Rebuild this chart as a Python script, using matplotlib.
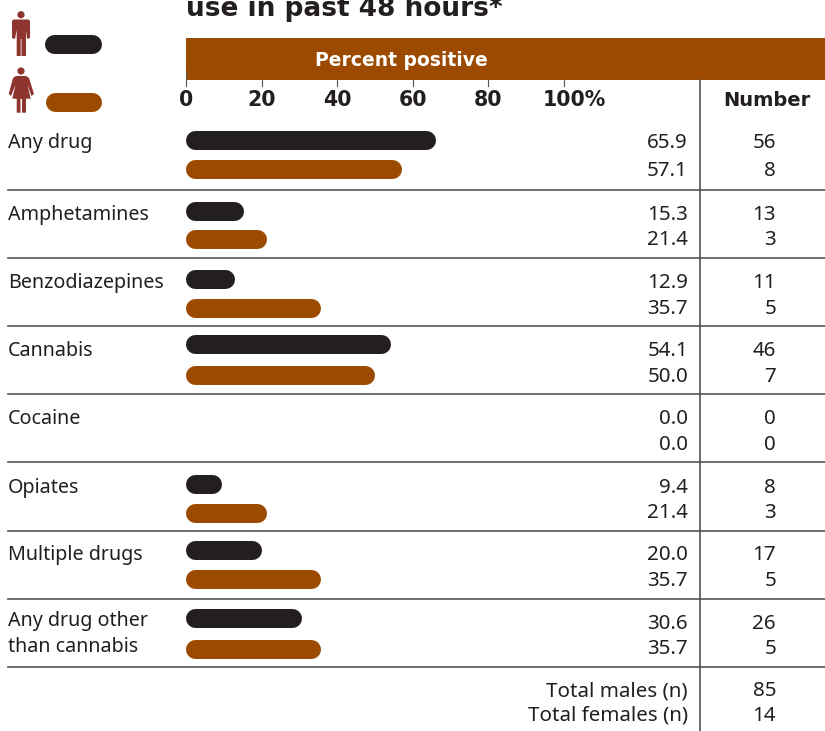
import matplotlib
matplotlib.use('Agg')
import matplotlib.pyplot as plt
from matplotlib.patches import Circle, Polygon, Rectangle

W, H = 825, 731

# Values
drugs = ['Any drug', 'Amphetamines', 'Benzodiazepines', 'Cannabis', 'Cocaine',
         'Opiates', 'Multiple drugs', 'Any drug other\nthan cannabis']
male_pct = [65.9, 15.3, 12.9, 54.1, 0.0, 9.4, 20.0, 30.6]
female_pct = [57.1, 21.4, 35.7, 50.0, 0.0, 21.4, 35.7, 35.7]
male_n = [56, 13, 11, 46, 0, 8, 17, 26]
female_n = [8, 3, 5, 7, 0, 3, 5, 5]
axis_ticks = [0, 20, 40, 60, 80, 100]
tick_labels = ['0', '20', '40', '60', '80', '100%']
total_labels = ['Total males (n)', 'Total females (n)']
totals = [85, 14]

# Layout, in image pixels
male_bar_y = [140, 211, 279, 344, 417, 484, 550, 618]
female_bar_y = [169, 239, 308, 375, 443, 513, 579, 649]
male_text_y = [141, 213, 281, 349, 417, 486, 553, 622]
female_text_y = [169, 238, 307, 375, 443, 511, 579, 647]
label_y = [141, 213, 281, 349, 417, 486, 553, 632]
rule_y = [190, 258, 326, 394, 462, 531, 599, 667]
total_y = [689, 714]

BROWN = '#9c4a00'
DARK = '#231f20'
ICON = '#8f3530'
RULE = '#555555'
X0, PX_PER_PCT = 186, 3.78
BAR_PX = 19
BAR_LW = BAR_PX * 0.72
CAP = BAR_PX / 2 / PX_PER_PCT
FONT = 'Noto Sans'
BOLD = 'DejaVu Sans'
FS = 14.2
NUM_FS = 14.8

fig = plt.figure(figsize=(W / 100, H / 100), dpi=100)

# pixel overlay for text, rules and icons
pax = fig.add_axes([0, 0, 1, 1])
pax.set_xlim(0, W)
pax.set_ylim(H, 0)
pax.axis('off')

# percent scale for the bars
ax = fig.add_axes([0, 0, 1, 1], facecolor='none')
ax.set_xlim(-X0 / PX_PER_PCT, (W - X0) / PX_PER_PCT)
ax.set_ylim(H, 0)
ax.axis('off')


def txt(x, y, s, **kw):
    kw.setdefault('family', FONT)
    kw.setdefault('fontsize', FS)
    kw.setdefault('color', DARK)
    kw.setdefault('va', 'center')
    pax.text(x, y, s, **kw)


def bar(a, x0, x1, y, color):
    a.plot([x0, x1], [y, y], color=color, lw=BAR_LW, solid_capstyle='round', zorder=3)


# title, cut off by the top edge as in the source
txt(186, 15.5, 'use in past 48 hours*', family=BOLD, fontsize=19,
    fontweight='bold', va='baseline', clip_on=False)

# header band
pax.add_patch(Rectangle((186, 38), W - 186, 42, color=BROWN, lw=0))
txt(401, 60, 'Percent positive', family=BOLD, fontsize=13.5, fontweight='bold',
    color='white', ha='center')
txt(767, 100, 'Number', family=BOLD, fontsize=14, fontweight='bold', ha='center')

# axis ticks and labels
for t, lab in zip(axis_ticks, tick_labels):
    ax.plot([t, t], [71 if t == 0 else 80, 86], color=RULE, lw=0.8, zorder=4)
    px = X0 + t * PX_PER_PCT
    if lab.endswith('%'):
        txt(543, 100, lab, family=BOLD, fontsize=14.8, fontweight='bold', ha='left')
    else:
        txt(px, 100, lab, family=BOLD, fontsize=14.8, fontweight='bold', ha='center')

# rows
for i, d in enumerate(drugs):
    txt(8, label_y[i] + 2, d, linespacing=1.4)
    if male_pct[i] > 0:
        bar(ax, CAP, male_pct[i] - CAP, male_bar_y[i], DARK)
    if female_pct[i] > 0:
        bar(ax, CAP, female_pct[i] - CAP, female_bar_y[i], BROWN)
    txt(688, male_text_y[i] + 2, f'{male_pct[i]:.1f}', ha='right', fontsize=NUM_FS)
    txt(688, female_text_y[i] + 2, f'{female_pct[i]:.1f}', ha='right', fontsize=NUM_FS)
    txt(776, male_text_y[i] + 2, str(male_n[i]), ha='right', fontsize=NUM_FS)
    txt(776, female_text_y[i] + 2, str(female_n[i]), ha='right', fontsize=NUM_FS)
    pax.plot([8, W], [rule_y[i], rule_y[i]], color=RULE, lw=1.2)

# totals
for lab, val, y in zip(total_labels, totals, total_y):
    txt(688, y + 2, lab, ha='right', fontsize=NUM_FS)
    txt(776, y + 2, str(val), ha='right', fontsize=NUM_FS)

pax.plot([700, 700], [80, H], color=RULE, lw=1.2)

# legend bars
bar(pax, 45 + BAR_PX / 2 - 1, 102 - BAR_PX / 2 - 1, 43.5, DARK)
bar(pax, 46 + BAR_PX / 2 - 1, 102 - BAR_PX / 2 - 1, 101.5, BROWN)

# man icon
pax.add_patch(Circle((21, 14.7), 3.6, color=ICON, lw=0))
pax.add_patch(Polygon([(13.5, 19.5), (28.5, 19.5), (30, 21), (30, 38), (27, 39), (26, 30),
                       (26, 56), (21.5, 56), (21.5, 39), (20.7, 39), (20.7, 56),
                       (16.7, 56), (16.7, 30), (15, 39), (12, 38), (12, 21)],
                      color=ICON, lw=0))
# woman icon
pax.add_patch(Circle((21, 71), 3.6, color=ICON, lw=0))
pax.add_patch(Polygon([(16, 76), (26, 76), (29, 78), (34, 94), (31.5, 96), (27.5, 85),
                       (30.7, 98.7), (26, 98.7), (26, 112.7), (22, 112.7), (22, 99),
                       (20.5, 99), (20.5, 112.7), (16.7, 112.7), (16.7, 98.7), (12.3, 98.7),
                       (15.5, 85), (11, 96), (8.7, 94), (13, 78)],
                      color=ICON, lw=0))

fig.savefig('out.png', dpi=100)
plt.close(fig)
